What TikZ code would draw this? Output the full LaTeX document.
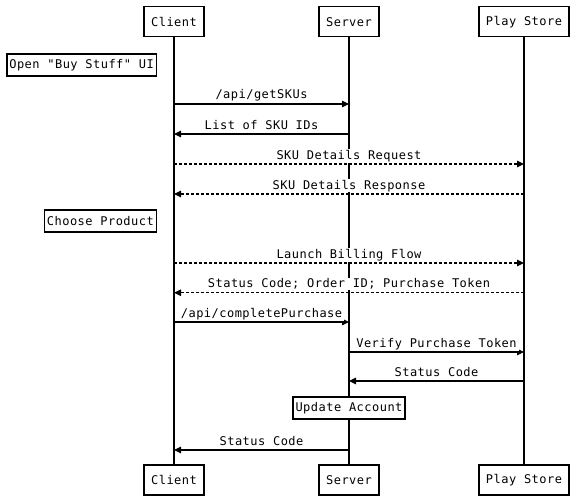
\documentclass[tikz,border=0pt]{standalone}
\usepackage{fontspec}
\newfontfamily\diagfont{DejaVu Sans Mono}[LetterSpace=4]
\usetikzlibrary{arrows.meta}
\tikzset{
  actor/.style={draw, line width=1.4pt, fill=white, minimum height=30pt, inner xsep=7pt, inner ysep=0pt},
  note/.style={draw, line width=1.4pt, fill=white, minimum height=22pt, inner xsep=2.5pt, inner ysep=0pt},
  life/.style={line width=1.4pt},
  msgline/.style={line width=1.2pt, -{Triangle[length=7pt,width=6.5pt]}},
  async/.style={msgline, dash pattern=on 3pt off 2pt},
  lbl/.style={midway, anchor=base, yshift=5pt, fill=white, inner xsep=2pt, inner ysep=1pt}
}
\newcommand{\msgrow}[6]{%
  \coordinate (#1) at (0,#2);
  \draw[#6] (#3 |- #1) -- (#4 |- #1) node[lbl] {#5};
}
\begin{document}
\begin{tikzpicture}[x=1pt, y=-1pt, font=\diagfont\fontsize{12}{14}\selectfont]
  \useasboundingbox (0,0) rectangle (577,500);
  % actors
  \node[actor] (cT) at (174,21.7) {Client};
  \node[actor] (sT) at (349,21.7) {Server};
  \node[actor] (pT) at (524,21.7) {Play Store};
  \node[actor] (cB) at (174,480) {Client};
  \node[actor] (sB) at (349,480) {Server};
  \node[actor] (pB) at (524,480) {Play Store};
  % lifelines
  \draw[life] (cT) -- (cB);
  \draw[life] (sT) -- (sB);
  \draw[life] (pT) -- (pB);
  % notes
  \node[note, anchor=east] (n1) at (157,65) {Open "Buy Stuff" UI};
  \node[note, anchor=east] (n2) at (157,221) {Choose Product};
  \node[note] (n3) at (349,408) {Update Account};
  % messages
  \msgrow{m1}{104}{cT}{sT}{/api/getSKUs}{msgline}
  \msgrow{m2}{134}{sT}{cT}{List of SKU IDs}{msgline}
  \msgrow{m3}{164}{cT}{pT}{SKU Details Request}{async}
  \msgrow{m4}{194}{pT}{cT}{SKU Details Response}{async}
  \msgrow{m5}{263}{cT}{pT}{Launch Billing Flow}{async}
  \msgrow{m6}{292.7}{pT}{cT}{Status Code; Order ID; Purchase Token}{async}
  \msgrow{m7}{322}{cT}{sT}{/api/completePurchase}{msgline}
  \msgrow{m8}{352}{sT}{pT}{Verify Purchase Token}{msgline}
  \msgrow{m9}{381}{pT}{sT}{Status Code}{msgline}
  \msgrow{m10}{450}{sT}{cT}{Status Code}{msgline}
\end{tikzpicture}
\end{document}
